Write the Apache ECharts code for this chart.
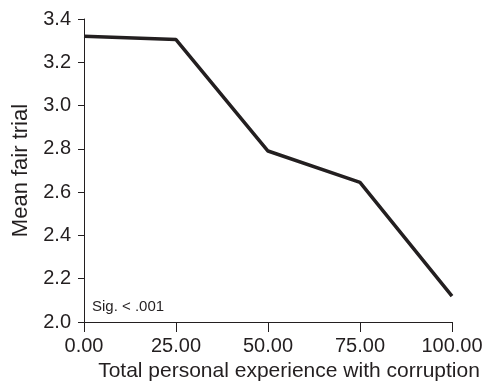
<!DOCTYPE html>
<html><head><meta charset="utf-8">
<script src="https://cdn.jsdelivr.net/npm/echarts@6/dist/echarts.min.js"></script>
<style>html,body{margin:0;padding:0;background:#fff}#c{width:488px;height:390px}</style>
</head><body><div id="c"></div>
<script>
const xValues = [0, 25, 50, 75, 100];
const meanFairTrial = [3.32, 3.305, 2.79, 2.645, 2.12];
const xTicks = [0, 25, 50, 75, 100];
const yTicks = [2.0, 2.2, 2.4, 2.6, 2.8, 3.0, 3.2, 3.4];
const xName = 'Total personal experience with corruption';
const yName = 'Mean fair trial';
const note = 'Sig. < .001';

const font = 'Liberation Sans, Arial, Helvetica, sans-serif';
const ink = '#231f20';
const chart = echarts.init(document.getElementById('c'));
chart.setOption({
  animation: false,
  grid: {left: 84, right: 36, top: 19, bottom: 68},
  xAxis: {
    type: 'value', min: xTicks[0], max: xTicks[xTicks.length - 1], interval: 25,
    name: xName, nameLocation: 'middle', nameGap: 39,
    nameTextStyle: {fontFamily: font, fontSize: 21, color: ink, padding: [0, 0, 0, 42]},
    axisLine: {show: true, lineStyle: {color: ink, width: 1}},
    axisTick: {show: true, length: 10, lineStyle: {color: ink}},
    axisLabel: {fontFamily: font, fontSize: 20, color: ink, margin: 14,
      formatter: v => v.toFixed(2)},
    splitLine: {show: false}
  },
  yAxis: {
    type: 'value', min: yTicks[0], max: yTicks[yTicks.length - 1], interval: 0.2,
    name: yName, nameLocation: 'middle', nameGap: 50,
    nameTextStyle: {fontFamily: font, fontSize: 22, color: ink},
    axisLine: {show: true, lineStyle: {color: ink, width: 1}},
    axisTick: {show: true, length: 6, lineStyle: {color: ink}},
    axisLabel: {fontFamily: font, fontSize: 20, color: ink, margin: 13,
      formatter: v => v.toFixed(1)},
    splitLine: {show: false}
  },
  graphic: [{
    type: 'text', left: 92, top: 299,
    style: {text: note, font: '15px ' + font, fill: ink}
  }],
  series: [{
    type: 'line',
    data: xValues.map((x, i) => [x, meanFairTrial[i]]),
    showSymbol: false,
    lineStyle: {color: ink, width: 3.5},
    silent: true
  }]
});
</script></body></html>
